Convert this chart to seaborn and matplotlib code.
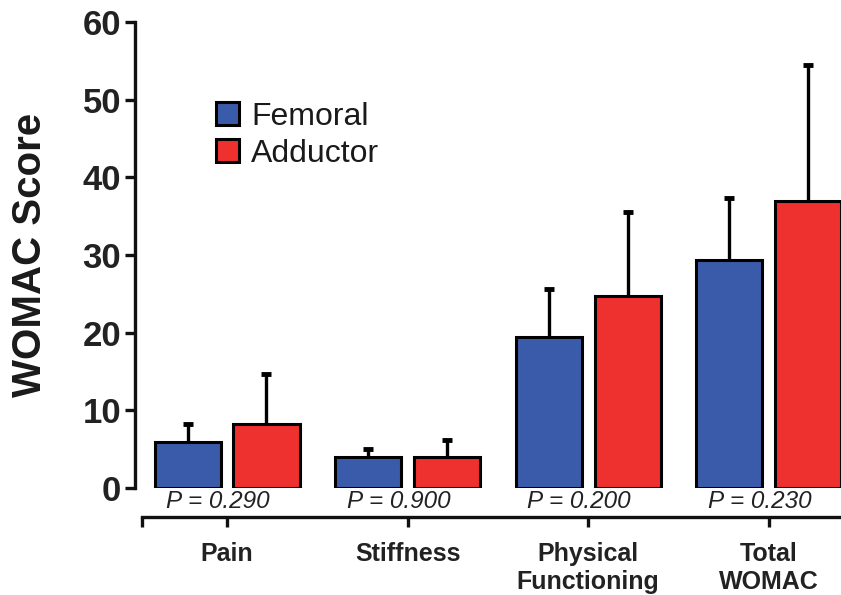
import numpy as np
import pandas as pd
import matplotlib
matplotlib.use("Agg")
import matplotlib.pyplot as plt
import seaborn as sns

categories = ["Pain", "Stiffness", "Physical\nFunctioning", "Total\nWOMAC"]
groups = ["Femoral", "Adductor"]
femoral = [5.9, 4.0, 19.4, 29.4]
adductor = [8.2, 4.0, 24.7, 37.0]
femoral_sd = [2.3, 1.0, 6.2, 7.9]
adductor_sd = [6.5, 2.2, 10.8, 17.5]
p_values = ["P = 0.290", "P = 0.900", "P = 0.200", "P = 0.230"]
colors = {"Femoral": "#3A5BAA", "Adductor": "#EE302F"}

df = pd.DataFrame({
    "category": categories * 2,
    "group": ["Femoral"] * 4 + ["Adductor"] * 4,
    "score": femoral + adductor,
    "sd": femoral_sd + adductor_sd,
})

sns.set_style("white")
plt.rcParams["font.family"] = ["Liberation Sans", "DejaVu Sans"]

fig = plt.figure(figsize=(8.41, 5.95), dpi=100)
ax = fig.add_axes([135 / 841, 1 - 488 / 595, 1 - 135 / 841, (488 - 22) / 595])

sns.barplot(data=df, x="category", y="score", hue="group", hue_order=groups,
            order=categories, palette=colors, width=0.872, gap=0.16,
            errorbar=None, edgecolor="black", linewidth=2.2, ax=ax,
            saturation=1, zorder=2)

# upper-only error bars, drawn behind the bars
for cont, g in zip(ax.containers, groups):
    sub = df[df["group"] == g]
    xs = [b.get_x() + b.get_width() / 2 for b in cont]
    eb = ax.errorbar(xs, sub["score"], yerr=[np.zeros(len(sub)), sub["sd"]],
                     fmt="none", ecolor="black", elinewidth=2.4, capsize=3.8,
                     capthick=3.5, zorder=1)
    eb[1][0].set_visible(False)  # hide the lower cap

ax.set_ylim(0, 60)
ax.set_xlim(-0.51, 3.4)
ax.set_yticks(range(0, 61, 10))
ax.set_ylabel("WOMAC Score", fontsize=29, fontweight="bold", labelpad=24)
ax.yaxis.label.set_color("#1a1a1a")
ax.set_xlabel("")

sns.despine(ax=ax)
for side in ["left", "bottom"]:
    ax.spines[side].set_linewidth(2.4)
    ax.spines[side].set_color("#111111")
ax.spines["bottom"].set_position(("outward", 21))
ax.spines["bottom"].set_bounds(-0.47, 3.4)
ax.set_xticks([-0.47], minor=True)
ax.tick_params(axis="both", which="both", direction="out", length=7, width=2.4,
               color="#111111", bottom=True, left=True)
ax.tick_params(axis="y", labelsize=25, pad=3)
ax.tick_params(axis="x", labelsize=18, pad=11)

for lab in ax.get_yticklabels() + ax.get_xticklabels():
    lab.set_fontweight("bold")
    lab.set_color("#222222")

for i, p in enumerate(p_values):
    ax.annotate(p, xy=(i - 0.05, 0), xycoords="data", xytext=(0, -10),
                textcoords="offset points", ha="center", va="center",
                fontsize=17.5, style="italic", color="#222222",
                annotation_clip=False)

leg = ax.legend(loc="upper left", bbox_to_anchor=(0.096, 0.856), frameon=False,
                fontsize=23, handlelength=0.72, handleheight=0.72,
                handletextpad=0.4, labelspacing=0.22, borderaxespad=0)
for t in leg.get_texts():
    t.set_color("#1a1a1a")

fig.savefig("out.png", dpi=100)
